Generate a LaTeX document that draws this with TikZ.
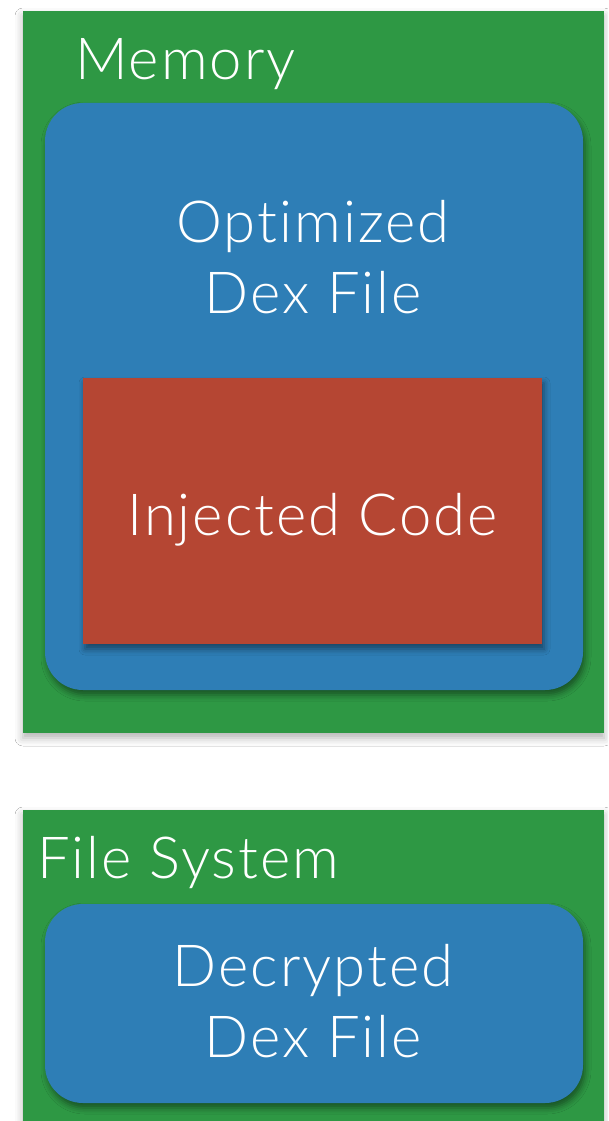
\documentclass[tikz,border=0pt]{standalone}
\usepackage{fontspec}
\setmainfont{Lato}[UprightFont=* Light, LetterSpace=3.5, Ligatures=NoCommon]
\usetikzlibrary{shadows.blur}

\definecolor{feltgreen}{HTML}{2E9844}
\definecolor{feltblue}{HTML}{2E7EB6}
\definecolor{feltred}{HTML}{B54633}

\tikzset{
  panel/.style={rectangle, fill=feltgreen, inner sep=0pt,
    blur shadow={shadow xshift=0pt, shadow yshift=-5pt, shadow blur radius=8pt, shadow opacity=30}},
  filebox/.style={rectangle, rounded corners=38pt, fill=feltblue, inner sep=0pt,
    blur shadow={shadow xshift=2pt, shadow yshift=-5pt, shadow blur radius=6pt, shadow opacity=45}},
  codebox/.style={rectangle, fill=feltred, inner sep=0pt,
    blur shadow={shadow xshift=2pt, shadow yshift=-5pt, shadow blur radius=6pt, shadow opacity=45}},
  label/.style={text=white, inner sep=0pt, font=\fontsize{58}{71}\selectfont},
  title/.style={label, align=center},
}

\begin{document}
\begin{tikzpicture}[x=1pt, y=-1pt]
  \clip (0,0) rectangle (608,1121);
  \fill[white] (0,0) rectangle (608,1121);

  % Memory panel
  \node[panel, minimum width=581pt, minimum height=722pt] (mem) at (313.5,372) {};
  \node[label, anchor=base west] (memlbl) at (75,80) {Memory};
  \node[filebox, minimum width=538pt, minimum height=587pt] (odex) at (314,396.5) {};
  % the base anchor of a two-line title sits on its last line
  \node[title, anchor=base] (odexlbl) at (313,313) {Optimized\\Dex File};
  \node[codebox, minimum width=459pt, minimum height=266pt] (inj) at (312.5,511) {};
  \node[label, anchor=base] (injlbl) at (312.5,535) {Injected Code};

  % File system panel
  \node[panel, minimum width=581pt, minimum height=340pt] (fs) at (313.5,980) {};
  \node[label, anchor=base west] (fslbl) at (37,878) {File System};
  \node[filebox, minimum width=538pt, minimum height=199pt] (ddex) at (314,1003.5) {};
  \node[title, anchor=base] (ddexlbl) at (313,1057) {Decrypted\\Dex File};
\end{tikzpicture}
\end{document}
